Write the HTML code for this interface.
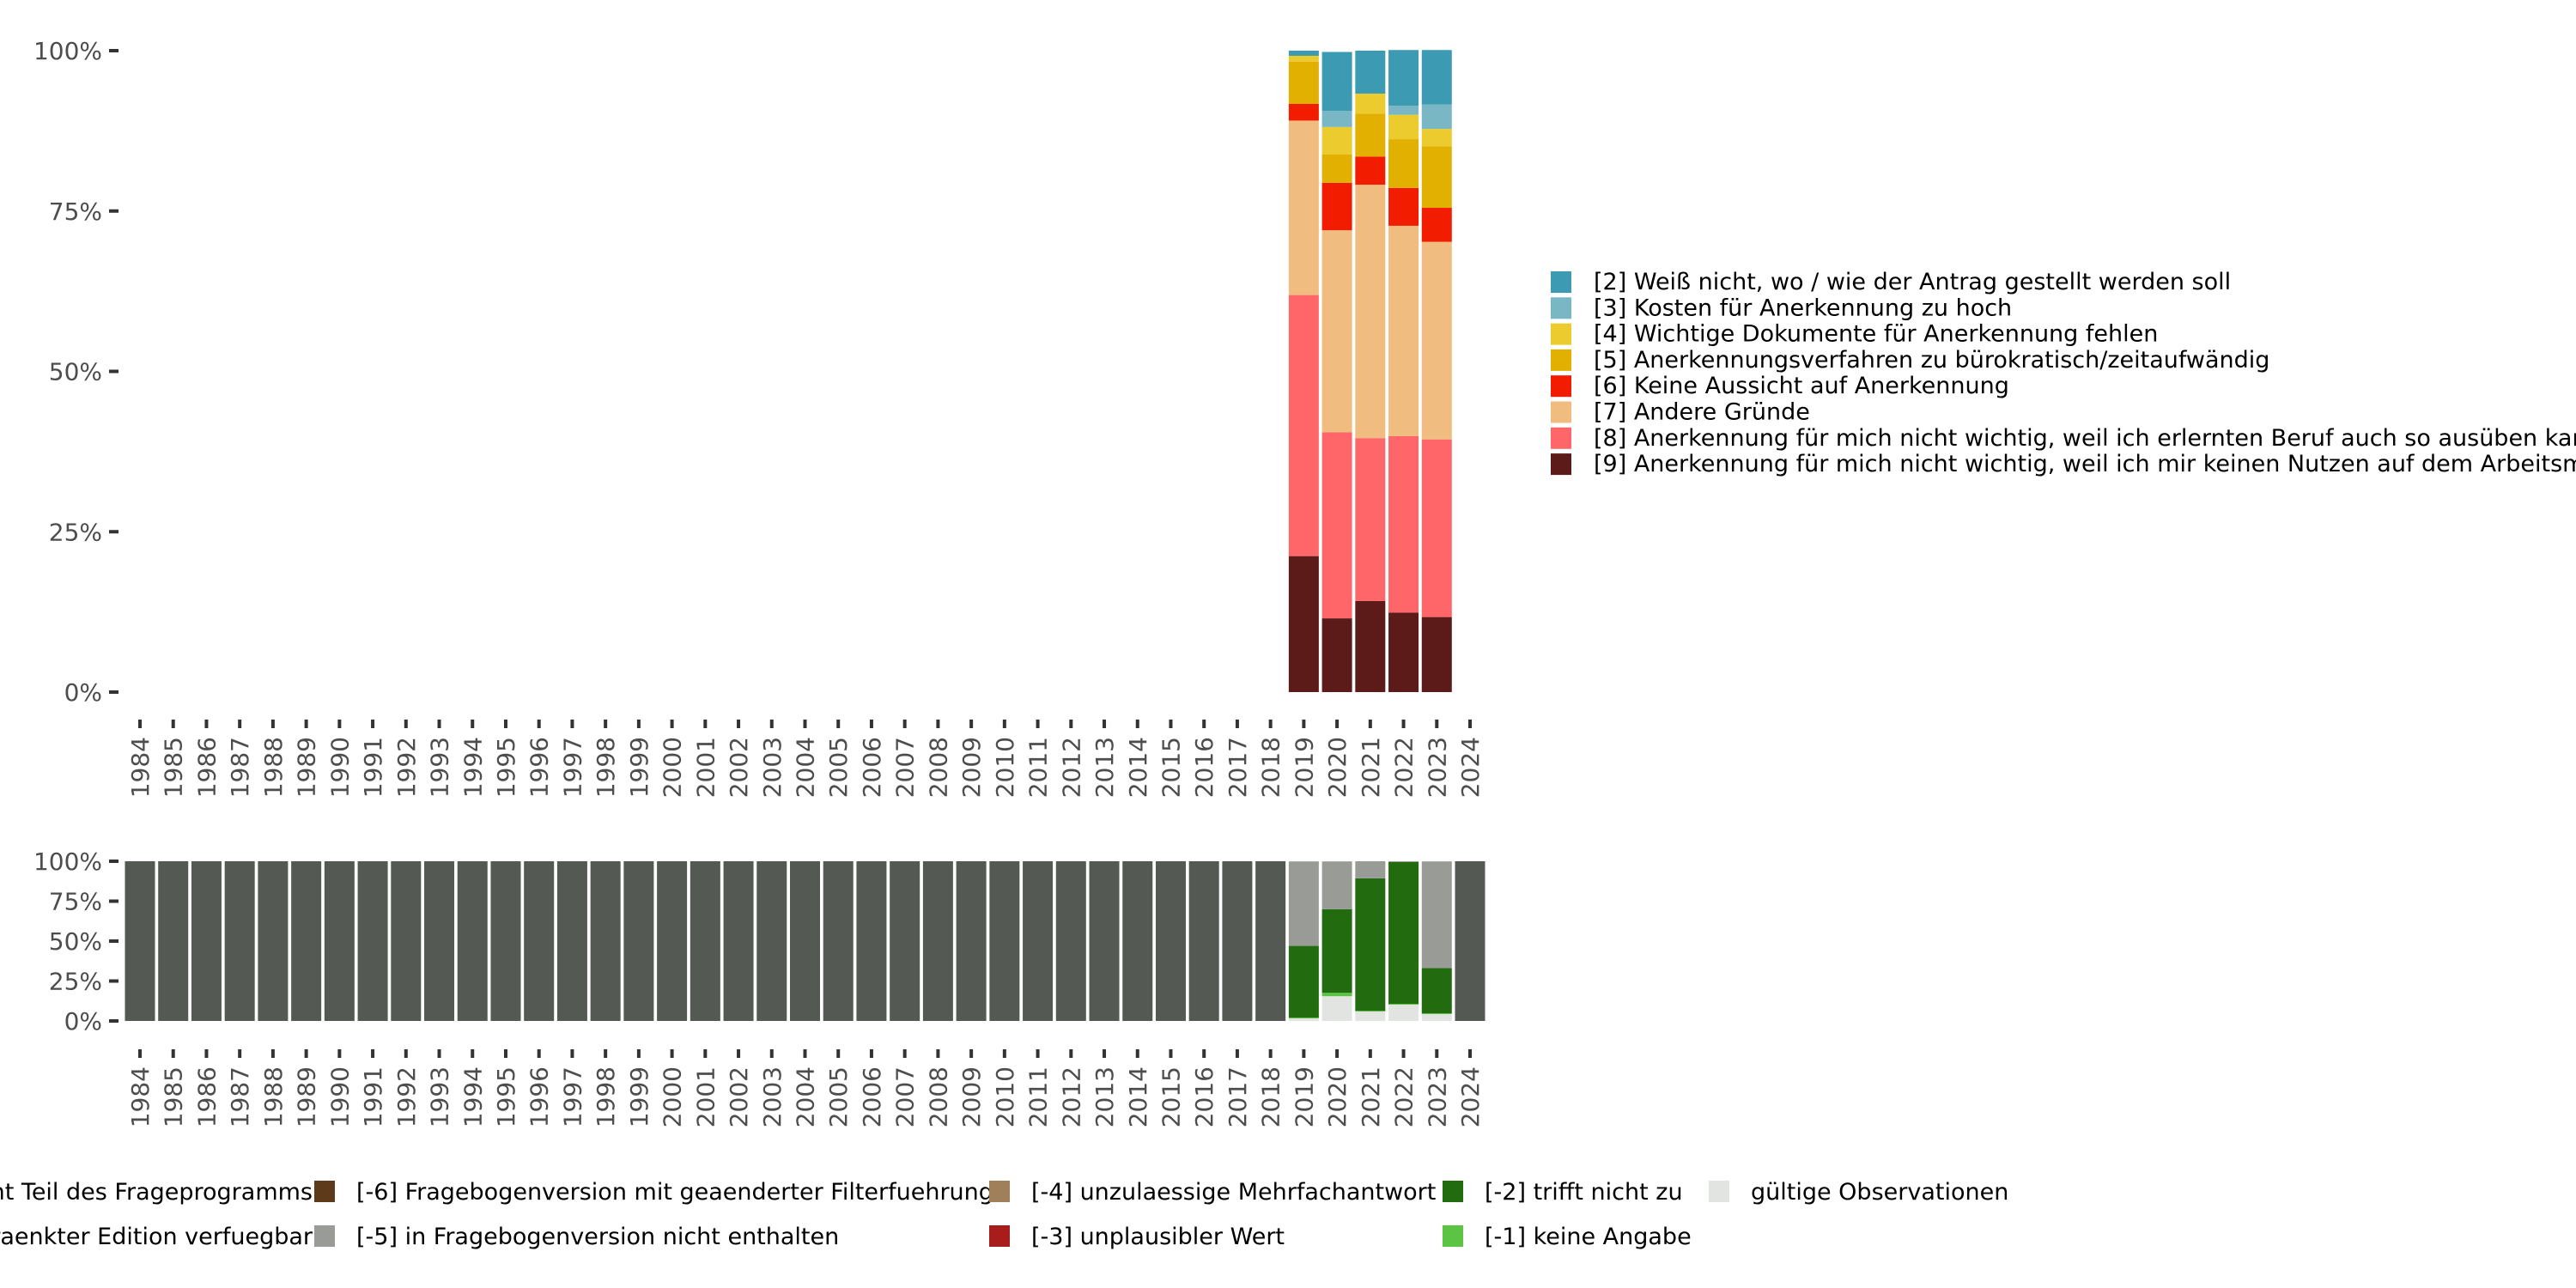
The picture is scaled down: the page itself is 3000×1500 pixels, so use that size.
<!DOCTYPE html>
<html><head><meta charset="utf-8">
<style>
html,body{margin:0;padding:0;background:#fff;}
svg{display:block;font-family:"DejaVu Sans","Liberation Sans",sans-serif;}
</style></head>
<body>
<svg id="chart" width="3000" height="1500" viewBox="0 0 3000 1500" xmlns="http://www.w3.org/2000/svg"></svg>
<script>
const years = [];
for (let y = 1984; y <= 2024; y++) years.push(y);
// top chart data (share per category), years 2019-2023
const topYears = [2019, 2020, 2021, 2022, 2023];
const catLabels = ["[9] Anerkennung für mich nicht wichtig, weil ich mir keinen Nutzen auf dem Arbeitsmarkt verspreche","[8] Anerkennung für mich nicht wichtig, weil ich erlernten Beruf auch so ausüben kann","[7] Andere Gründe","[6] Keine Aussicht auf Anerkennung","[5] Anerkennungsverfahren zu bürokratisch/zeitaufwändig","[4] Wichtige Dokumente für Anerkennung fehlen","[3] Kosten für Anerkennung zu hoch","[2] Weiß nicht, wo / wie der Antrag gestellt werden soll"];
const catColors = ["#5c1a18","#ff6669","#f1bc7f","#f21c00","#e1b000","#ebcb2e","#79b7c5","#3c9ab2"];
const v9 = [0.212,0.115,0.142,0.124,0.117];
const v8 = [0.407,0.290,0.254,0.275,0.277];
const v7 = [0.272,0.315,0.395,0.328,0.308];
const v6 = [0.026,0.074,0.044,0.059,0.053];
const v5 = [0.066,0.044,0.067,0.076,0.096];
const v4 = [0.009,0.043,0.031,0.038,0.027];
const v3 = [0.000,0.025,0.000,0.014,0.038];
const v2 = [0.008,0.092,0.067,0.087,0.085];
const topSeries = [v9,v8,v7,v6,v5,v4,v3,v2];
// bottom chart (missing-value structure)
const botYears = [2019, 2020, 2021, 2022, 2023];
const valid = [0.016,0.155,0.059,0.102,0.043];
const m1 = [0.005,0.021,0.005,0.005,0.005];
const m2 = [0.449,0.524,0.829,0.888,0.283];
const m5 = [0.529,0.299,0.107,0.005,0.668];
const botSeries = [valid,m1,m2,m5];
const botColors = ["#e1e4e0","#5bc444","#226b0e","#999c96"];
const pctTicks = [0,0.25,0.5,0.75,1];
const pctLabels = ["0%","25%","50%","75%","100%"];

const svg = document.getElementById('chart');
const NS = "http://www.w3.org/2000/svg";
function mk(tag, attrs){const e=document.createElementNS(NS,tag);for(const k in attrs)e.setAttribute(k,attrs[k]);svg.appendChild(e);return e;}

const x0 = 163, step = 38.725, bw = 35;
const xc = y => x0 + (y - 1984) * step;
const topY = v => 806 - v * 747;
const botY = v => 1189 - v * 186;

function yAxis(fy, name){
  pctTicks.forEach((t,i)=>{
    const tk = mk('line',{x1:127,x2:138,y1:fy(t),y2:fy(t),stroke:'#333','stroke-width':4});
    
    
    const tx = mk('text',{x:119,y:fy(t)+10,'text-anchor':'end','font-size':28,fill:'#4d4d4d'});
    tx.textContent = pctLabels[i];
    
    
  });
}
function xAxis(tickY, labY, name){
  years.forEach(y=>{
    const tk = mk('line',{x1:xc(y),x2:xc(y),y1:tickY,y2:tickY+10,stroke:'#333','stroke-width':4});
    
    
    const tx = mk('text',{x:0,y:0,'text-anchor':'end','font-size':28,fill:'#4d4d4d',transform:`translate(${xc(y)+10},${labY}) rotate(-90)`});
    tx.textContent = y;
    
    
  });
}
yAxis(topY,'top-y-axis');
xAxis(838, 858, 'top-x-axis');
yAxis(botY,'bottom-y-axis');
xAxis(1222, 1242, 'bottom-x-axis');

// top bars
topYears.forEach((yr,i)=>{
  let cum = 0;
  topSeries.forEach((s,k)=>{
    const v = s[i]; if (v<=0) return;
    const r = mk('rect',{x:xc(yr)-bw/2,y:topY(cum+v),width:bw,height:topY(cum)-topY(cum+v),fill:catColors[k]});
    
    
    cum += v;
  });
});
// bottom bars
years.forEach(yr=>{
  const i = botYears.indexOf(yr);
  if (i < 0){
    const r = mk('rect',{x:xc(yr)-bw/2,y:botY(1),width:bw,height:botY(0)-botY(1),fill:'#545a53'});
    
    
    return;
  }
  let cum = 0;
  botSeries.forEach((s,k)=>{
    const v = s[i];
    const r = mk('rect',{x:xc(yr)-bw/2,y:botY(cum+v),width:bw,height:botY(cum)-botY(cum+v),fill:botColors[k]});
    
    
    cum += v;
  });
});

// top legend
const legOrder = [7,6,5,4,3,2,1,0];
legOrder.forEach((k,j)=>{
  const y = 316 + j*30.3;
  const r = mk('rect',{x:1806,y:y,width:24,height:25,fill:catColors[k]});
  
  
  const t = mk('text',{x:1856,y:y+21,'font-size':27,fill:'#000'});
  t.textContent = catLabels[k];
  
  
});

// bottom legend
const bLeg = [
  {x:null,y:1387,c:'#545a53',t:'[-8] Nicht Teil des Frageprogramms'},
  {x:null,y:1439,c:'#c7b98a',t:'[-7] nur in eingeschraenkter Edition verfuegbar'},
  {x:366,y:1387,c:'#5c3a1a',t:'[-6] Fragebogenversion mit geaenderter Filterfuehrung'},
  {x:366,y:1439,c:'#999c96',t:'[-5] in Fragebogenversion nicht enthalten'},
  {x:1152,y:1387,c:'#a0805a',t:'[-4] unzulaessige Mehrfachantwort'},
  {x:1152,y:1439,c:'#a81c1c',t:'[-3] unplausibler Wert'},
  {x:1680,y:1387,c:'#226b0e',t:'[-2] trifft nicht zu'},
  {x:1680,y:1439,c:'#5bc444',t:'[-1] keine Angabe'},
  {x:1990,y:1387,c:'#e1e4e0',t:'gültige Observationen'}
];
bLeg.forEach(e=>{
  if (e.x === null){
    const t = mk('text',{x:364,y:e.y+10,'text-anchor':'end','font-size':27,fill:'#000'});
    t.textContent = e.t;
    
    
    return;
  }
  const r = mk('rect',{x:e.x,y:e.y-12,width:24,height:25,fill:e.c});
  
  
  const t = mk('text',{x:e.x+49,y:e.y+10,'font-size':27,fill:'#000'});
  t.textContent = e.t;
  
  
});
</script>
</body></html>
